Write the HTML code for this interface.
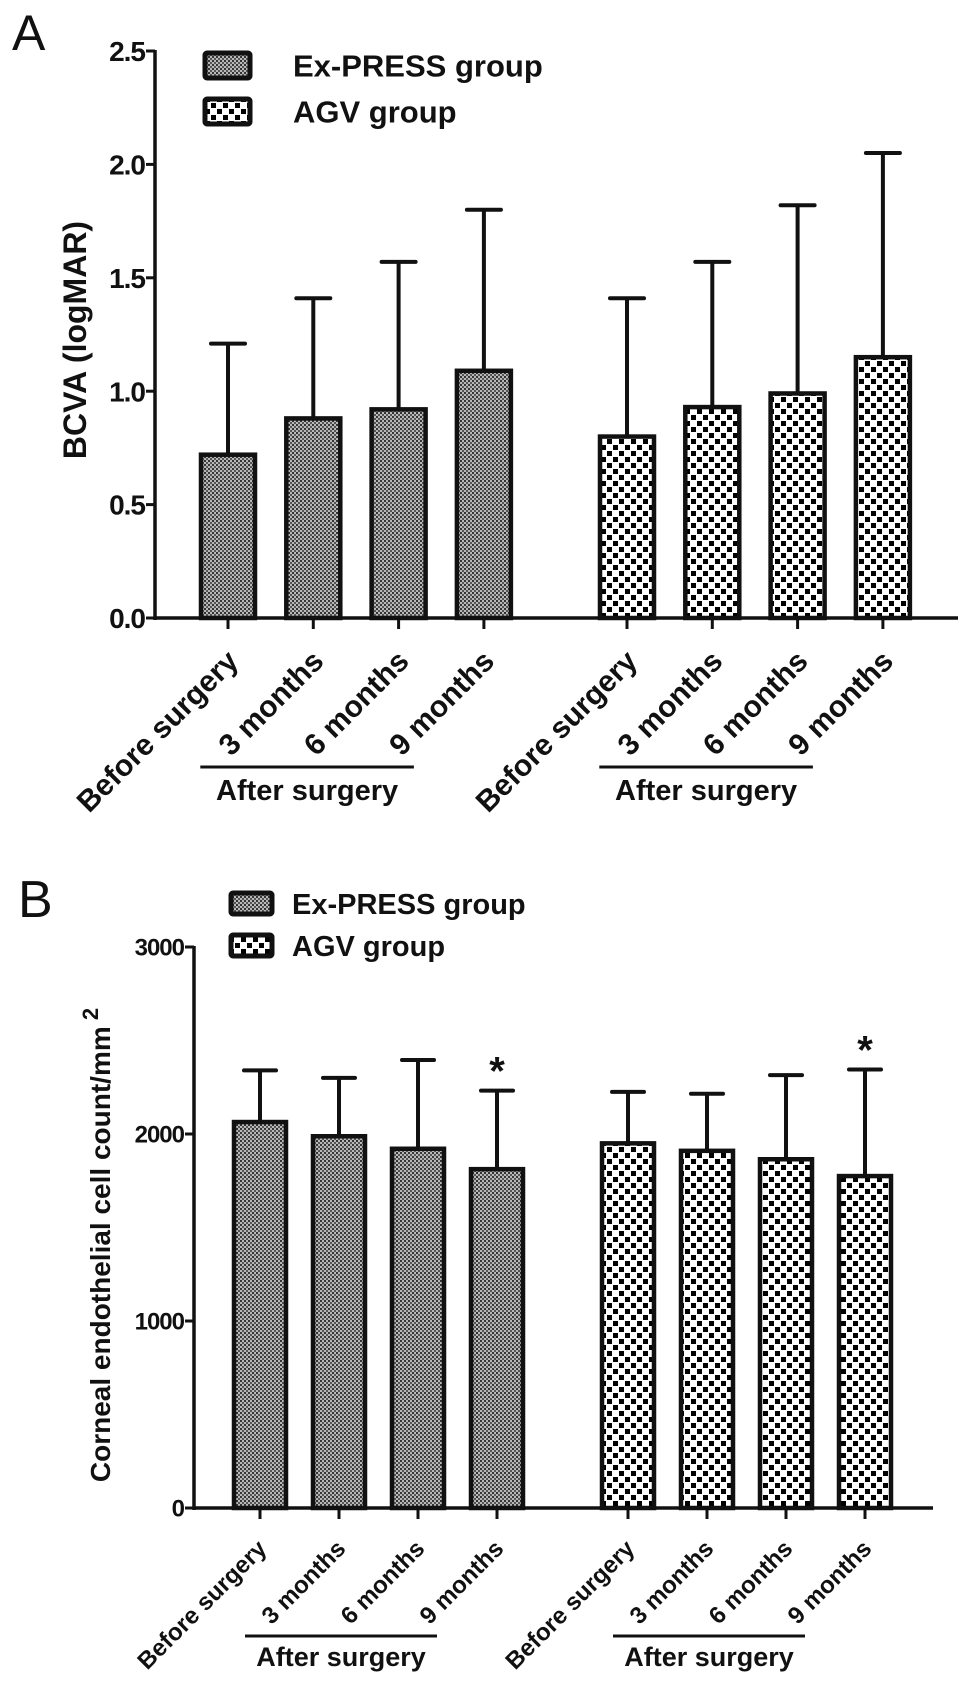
<!DOCTYPE html>
<html><head><meta charset="utf-8"><style>
html,body{margin:0;padding:0;background:#fff}
svg{display:block}
text{font-family:"Liberation Sans",Arial,sans-serif;fill:#111}
</style></head><body>
<svg id="chart" width="969" height="1696" viewBox="0 0 969 1696" xmlns="http://www.w3.org/2000/svg">
<defs>
<pattern id="dots" width="4" height="4" patternUnits="userSpaceOnUse">
<rect width="4" height="4" fill="#b8b8b8"/>
<rect x="0" y="0" width="2" height="2" fill="#333"/>
<rect x="2" y="2" width="2" height="2" fill="#555"/>
</pattern>
<pattern id="checks" width="12" height="12" patternUnits="userSpaceOnUse">
<rect width="12" height="12" fill="#fff"/>
<rect x="1" y="1" width="5" height="5" fill="#000"/>
<rect x="7" y="7" width="5" height="5" fill="#000"/>
</pattern>
</defs>
<g id="panelA"></g>
<g id="panelB"></g>
</svg>
<script>
// Panel A data
const categoriesA = ["Before surgery","3 months","6 months","9 months"];
const exMeanA = [0.72, 0.88, 0.92, 1.09];
const exTopA = [1.21, 1.41, 1.57, 1.80];
const agvMeanA = [0.80, 0.93, 0.99, 1.15];
const agvTopA = [1.41, 1.57, 1.82, 2.05];
const ticksA = [0, 0.5, 1.0, 1.5, 2.0, 2.5];
const tickLabelsA = ["0.0","0.5","1.0","1.5","2.0","2.5"];
// Panel B data
const categoriesB = ["Before surgery","3 months","6 months","9 months"];
const exMeanB = [2064, 1988, 1921, 1812];
const exTopB = [2340, 2300, 2396, 2232];
const agvMeanB = [1950, 1910, 1865, 1775];
const agvTopB = [2225, 2215, 2315, 2345];
const starsB = [false, false, false, true];
const ticksB = [0, 1000, 2000, 3000];
const tickLabelsB = ["0","1000","2000","3000"];

const NS = "http://www.w3.org/2000/svg";
function mk(parent, tag, attrs, txt){
  const e = document.createElementNS(NS, tag);
  for (const k in attrs) e.setAttribute(k, attrs[k]);
  if (txt !== undefined) e.textContent = txt;
  parent.appendChild(e);
  return e;
}

function drawPanel(g, cfg){
  const y = v => cfg.y0 - (v - cfg.vmin) / (cfg.vmax - cfg.vmin) * (cfg.y0 - cfg.yTop);
  let t = mk(g, "text", {x: cfg.letterX, y: cfg.letterY, "font-size": cfg.letterSize}, cfg.letter);
  
  
  let a = mk(g, "line", {x1: cfg.ax, x2: cfg.ax, y1: y(cfg.vmax) - 1, y2: cfg.y0 + 2, stroke: "#111", "stroke-width": 3.5});
  
  
  cfg.ticks.forEach((v, i) => {
    let l = mk(g, "line", {x1: cfg.ax - 9, x2: cfg.ax, y1: y(v), y2: y(v), stroke: "#111", "stroke-width": 3});
    
    
    let tl = mk(g, "text", {x: cfg.ax - 10, y: y(v) + cfg.tickSize * 0.36, "font-size": cfg.tickSize, "font-weight": "bold", "text-anchor": "end", "letter-spacing": "-1"}, cfg.tickLabels[i]);
    
    
  });
  let xa = mk(g, "line", {x1: cfg.ax, x2: cfg.axEnd, y1: cfg.y0, y2: cfg.y0, stroke: "#111", "stroke-width": 3.5});
  
  
  let yt = mk(g, "text", {transform: `translate(${cfg.ytX},${cfg.ytY}) rotate(-90)`, "font-size": cfg.ytSize, "font-weight": "bold", "text-anchor": "middle"});
  yt.innerHTML = cfg.ytHTML;
  
  

  const groups = [
    {means: cfg.exMean, tops: cfg.exTop, start: cfg.exStart, fill: "url(#dots)", name: "ex-press"},
    {means: cfg.agvMean, tops: cfg.agvTop, start: cfg.agvStart, fill: "url(#checks)", name: "agv"}
  ];
  groups.forEach((grp, gi) => {
    grp.means.forEach((m, i) => {
      const cx = grp.start + i * cfg.step;
      const top = y(m);
      const et = y(grp.tops[i]);
      let el = mk(g, "line", {x1: cx, x2: cx, y1: et, y2: top, stroke: "#111", "stroke-width": 4});
      
      
      let cap = mk(g, "line", {x1: cx - cfg.capW/2, x2: cx + cfg.capW/2, y1: et, y2: et, stroke: "#111", "stroke-width": 4, "stroke-linecap": "round"});
      
      
      let b = mk(g, "rect", {x: cx - cfg.barW/2 + 2, y: top, width: cfg.barW - 4, height: cfg.y0 - top, fill: grp.fill, stroke: "#111", "stroke-width": 4.5});
      
      
      let tk = mk(g, "line", {x1: cx, x2: cx, y1: cfg.y0, y2: cfg.y0 + 11, stroke: "#111", "stroke-width": 3});
      
      
      const lx = cx + cfg.lblDx, ly = cfg.y0 + cfg.lblDy;
      let lb = mk(g, "text", {transform: `translate(${lx},${ly}) rotate(-45)`, "font-size": cfg.lblSize, "font-weight": "bold", "text-anchor": "end"}, cfg.categories[i]);
      
      
      if (cfg.stars && cfg.stars[i]) {
        let s = mk(g, "text", {x: cx, y: et - 6, "font-size": 40, "font-weight": "bold", "text-anchor": "middle"}, "*");
        
        
      }
    });
    const x1 = grp.start + cfg.step - cfg.brPad, x2 = grp.start + 3 * cfg.step + cfg.brPad2;
    let br = mk(g, "line", {x1: x1, x2: x2, y1: cfg.brY, y2: cfg.brY, stroke: "#111", "stroke-width": 3});
    
    
    let bt = mk(g, "text", {x: (x1 + x2) / 2, y: cfg.brTextY, "font-size": cfg.brSize, "font-weight": "bold", "text-anchor": "middle"}, "After surgery");
    
    
  });
  cfg.legend.forEach((lg, i) => {
    const ly = cfg.legY + i * cfg.legGap;
    let r = mk(g, "rect", {x: cfg.legX, y: ly, width: cfg.legW, height: cfg.legH, fill: lg.fill, stroke: "#111", "stroke-width": 5, rx: 2});
    
    
    let tx = mk(g, "text", {x: cfg.legTX, y: ly + cfg.legH / 2 + cfg.legSize * 0.36, "font-size": cfg.legSize, "font-weight": "bold"}, lg.label);
    
    
  });
}

drawPanel(document.getElementById("panelA"), {
  letter: "A", letterX: 12, letterY: 50, letterSize: 50,
  vmin: 0, vmax: 2.5, y0: 618, yTop: 51, ax: 155, axEnd: 958,
  ticks: ticksA, tickLabels: tickLabelsA, tickSize: 28,
  ytX: 86, ytY: 340, ytSize: 32, ytHTML: "BCVA (logMAR)",
  exMean: exMeanA, exTop: exTopA, agvMean: agvMeanA, agvTop: agvTopA,
  exStart: 228, agvStart: 627, step: 85.3, barW: 58, capW: 34,
  categories: categoriesA, lblDx: 12, lblDy: 45, lblSize: 30,
  brY: 767, brPad: 113, brPad2: -70, brTextY: 800, brSize: 29,
  legend: [{fill: "url(#dots)", label: "Ex-PRESS group"}, {fill: "url(#checks)", label: "AGV group"}],
  legX: 205, legY: 53, legW: 45, legH: 25, legGap: 46, legTX: 293, legSize: 31
});
drawPanel(document.getElementById("panelB"), {
  letter: "B", letterX: 18, letterY: 917, letterSize: 52,
  vmin: 0, vmax: 3000, y0: 1508, yTop: 947, ax: 194, axEnd: 933,
  ticks: ticksB, tickLabels: tickLabelsB, tickSize: 24,
  ytX: 110, ytY: 1245, ytSize: 28, ytHTML: "Corneal endothelial cell count/mm<tspan dy=\"-12\" font-size=\"22\"> 2</tspan>",
  exMean: exMeanB, exTop: exTopB, agvMean: agvMeanB, agvTop: agvTopB,
  exStart: 260, agvStart: 628, step: 79, barW: 56, capW: 32,
  categories: categoriesB, lblDx: 8, lblDy: 42, lblSize: 24,
  stars: starsB,
  brY: 1636, brPad: 94, brPad2: -60, brTextY: 1666, brSize: 27,
  legend: [{fill: "url(#dots)", label: "Ex-PRESS group"}, {fill: "url(#checks)", label: "AGV group"}],
  legX: 231, legY: 893, legW: 41, legH: 21, legGap: 42, legTX: 292, legSize: 29
});
</script>
</body></html>
